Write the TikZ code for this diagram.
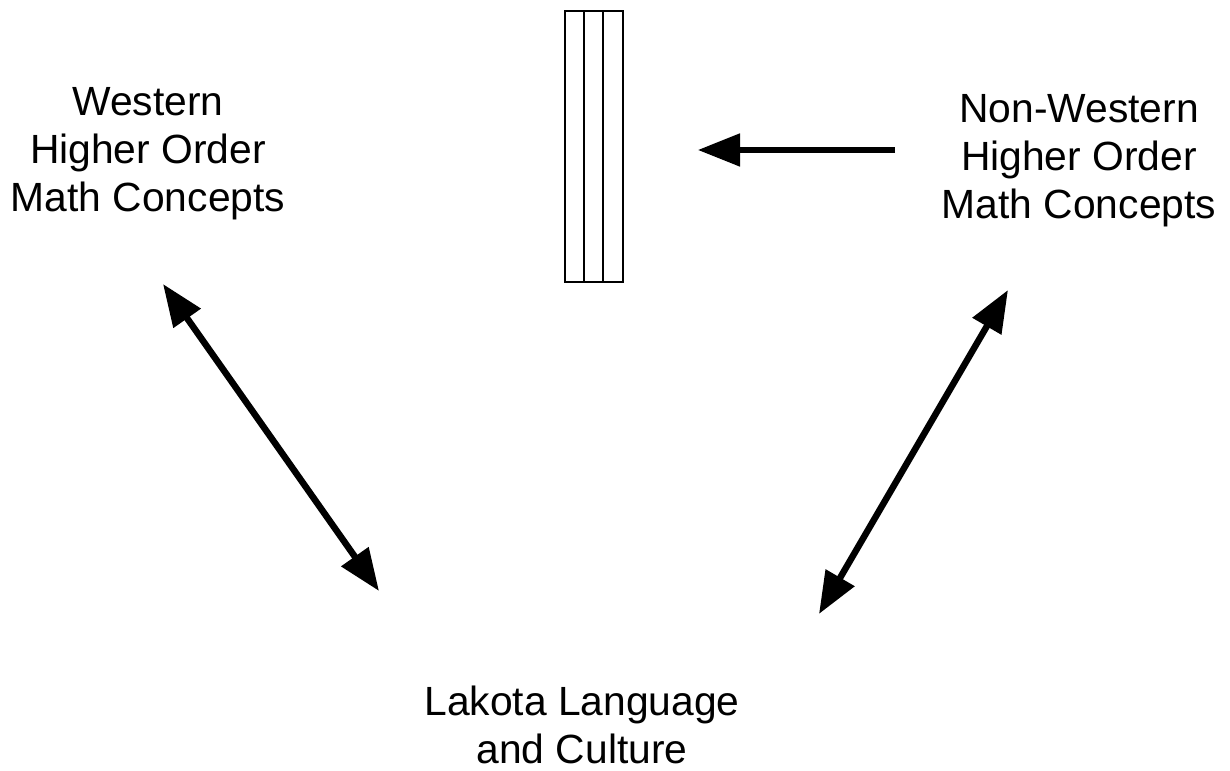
\documentclass[tikz,border=0pt]{standalone}
\usepackage{fontspec}
\setmainfont{Liberation Sans}
\usetikzlibrary{arrows.meta}

\begin{document}
\begin{tikzpicture}[x=0.01cm,y=-0.01cm,
		label/.style={align=center, font=\fontsize{11.6}{13.7}\selectfont, inner sep=0pt},
		bigarrow/.style={line width=1.45pt, -{Triangle[length=0.42cm,width=0.32cm]}},
		twoarrow/.style={line width=1.85pt, {Triangle[length=0.42cm,width=0.32cm]}-{Triangle[length=0.42cm,width=0.32cm]}}]
		\useasboundingbox (0,0) rectangle (1230,771);
		% the wall
		\draw[line width=0.45pt] (565,11) rectangle (623,282);
		\draw[line width=0.45pt] (584,11) -- (584,282);
		\draw[line width=0.45pt] (603,11) -- (603,282);
		% texts
		\node[label] (west) at (148,154) {Western\\Higher Order\\Math Concepts};
		\node[label] (nonwest) at (1079,161) {Non-Western\\Higher Order\\Math Concepts};
		\node[label] (lakota) at (582,725) {Lakota Language\\and Culture};
		% arrow ends
		\coordinate (nw) at (895,150);
		\coordinate (wall) at (698,150);
		\coordinate (wa) at (163,284);
		\coordinate (wb) at (379,591);
		\coordinate (na) at (1008,290);
		\coordinate (nb) at (819,614);
		\draw[bigarrow] (nw) -- (wall);
		\draw[twoarrow] (wa) -- (wb);
		\draw[twoarrow] (nb) -- (na);
\end{tikzpicture}
\end{document}
